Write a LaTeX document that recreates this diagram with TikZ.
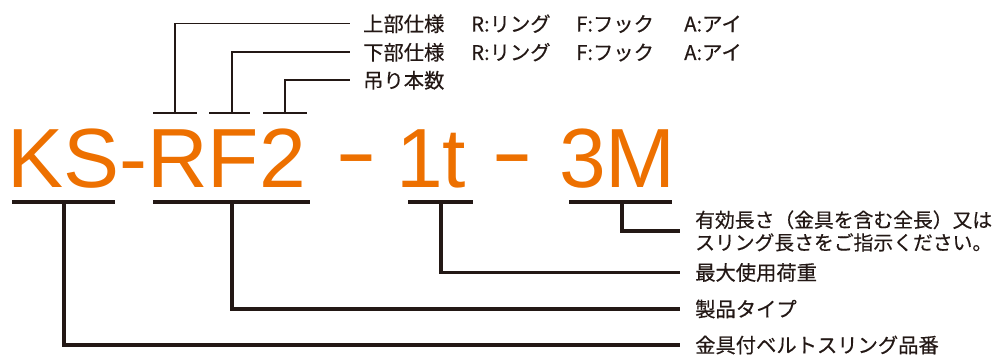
\documentclass[tikz,border=0pt]{standalone}
\usepackage{fontspec}
\usepackage{graphicx}
\setmainfont{Liberation Sans}
\newfontfamily\jp[FakeBold=0.4]{Noto Sans CJK JP}
\definecolor{brandorange}{RGB}{237,112,0}
\definecolor{inkblack}{RGB}{35,24,21}
\tikzset{
  codetext/.style={inner sep=0pt, text=brandorange, font=\fontsize{84}{84}\selectfont},
  label/.style={inner sep=0pt, text=inkblack, font=\jp\fontsize{20.3}{22.6}\selectfont, align=left},
  thin/.style={draw=inkblack, line width=1.4pt},
  thick/.style={draw=inkblack, line width=3.6pt},
  drop/.style={draw=inkblack, line width=3.2pt, line join=miter},
}
\begin{document}
\begin{tikzpicture}[x=1pt,y=-1pt]
\useasboundingbox (0,0) rectangle (997,355);
% orange code
\node[codetext, anchor=base west] (ksrf) at (7,188) {KS-RF2};
\node[codetext, anchor=base] (d1) at (356.5,181) {\scalebox{1.5}[1]{-}};
\node[codetext, anchor=base west] (ton) at (396,188) {1t};
\node[codetext, anchor=base] (d2) at (512.5,181) {\scalebox{1.5}[1]{-}};
\node[codetext, anchor=base west] (len) at (559,188) {3M};
% top labels
\node[label, anchor=base west] (up) at (363,31.5) {上部仕様};
\node[label, anchor=base west] (upr) at (471,31.5) {R:リング};
\node[label, anchor=base west] (upf) at (576,31.5) {F:フック};
\node[label, anchor=base west] (upa) at (684,31.5) {A:アイ};
\node[label, anchor=base west] (lo) at (363,60) {下部仕様};
\node[label, anchor=base west] (lor) at (471,60) {R:リング};
\node[label, anchor=base west] (lof) at (576,60) {F:フック};
\node[label, anchor=base west] (loa) at (684,60) {A:アイ};
\node[label, anchor=base west] (num) at (363,88) {吊り本数};
% top bars
\coordinate (t1a) at (153,113); \coordinate (t1b) at (197,113); \coordinate (t1m) at (175,113);
\coordinate (t2a) at (209,113); \coordinate (t2b) at (250,113); \coordinate (t2m) at (232,113);
\coordinate (t3a) at (263,113); \coordinate (t3b) at (307,113); \coordinate (t3m) at (285,113);
\draw[thin] (t1a) -- (t1b);
\draw[thin] (t2a) -- (t2b);
\draw[thin] (t3a) -- (t3b);
\draw[thin] (t1m) |- ([xshift=-13pt,yshift=8pt]up.base west);
\draw[thin] (t2m) |- ([xshift=-13pt,yshift=8pt]lo.base west);
\draw[thin] (t3m) |- ([xshift=-13pt,yshift=8pt]num.base west);
% right labels
\node[label, anchor=west, font=\jp\fontsize{19.8}{22.6}\selectfont] (effl) at (695,231) {有効長さ（金具を含む全長）又は\\スリング長さをご指示ください。};
\node[label, anchor=west] (load) at (695,272.5) {最大使用荷重};
\node[label, anchor=west] (type) at (695,309) {製品タイプ};
\node[label, anchor=west] (code) at (695,345) {金具付ベルトスリング品番};
% bottom bars
\coordinate (b1a) at (12,202); \coordinate (b1b) at (115,202); \coordinate (b1m) at (64,202);
\coordinate (b2a) at (153,202); \coordinate (b2b) at (310,202); \coordinate (b2m) at (232,202);
\coordinate (b3a) at (408,202); \coordinate (b3b) at (473,202); \coordinate (b3m) at (441,202);
\coordinate (b4a) at (569,202); \coordinate (b4b) at (672,202); \coordinate (b4m) at (622,202);
\draw[thick] (b1a) -- (b1b);
\draw[thick] (b2a) -- (b2b);
\draw[thick] (b3a) -- (b3b);
\draw[thick] (b4a) -- (b4b);
\draw[drop] (b4m) |- ([xshift=-15pt]effl.west);
\draw[drop] (b3m) |- ([xshift=-15pt]load.west);
\draw[drop] (b2m) |- ([xshift=-15pt]type.west);
\draw[drop] (b1m) |- ([xshift=-15pt]code.west);
\end{tikzpicture}
\end{document}
